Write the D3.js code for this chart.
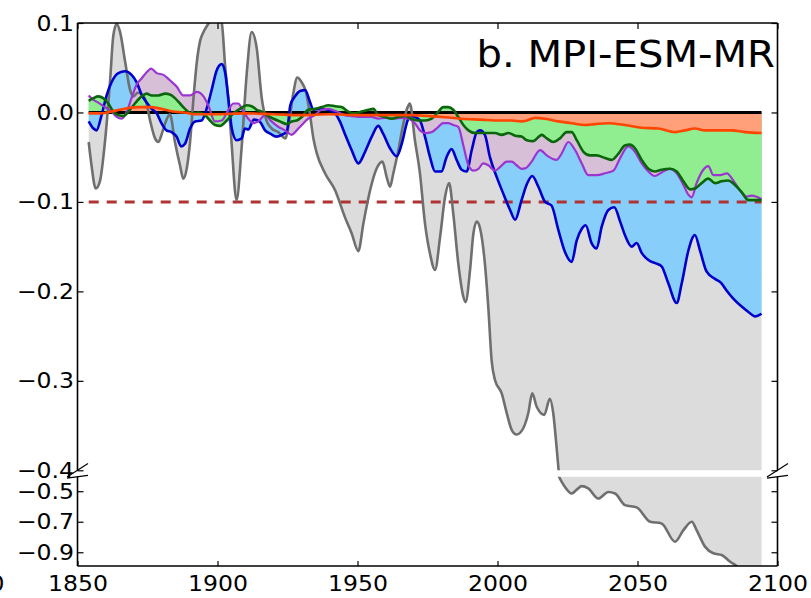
<!DOCTYPE html>
<html>
<head>
<meta charset="utf-8">
<script src="https://cdn.jsdelivr.net/npm/d3@7/dist/d3.min.js"></script>
<style>
  html, body { margin: 0; padding: 0; background: #fff; }
  svg { display: block; font-family: "DejaVu Sans", sans-serif; }
</style>
</head>
<body>
<svg id="chart" width="811" height="598"></svg>
<script>
// Anomaly series, [year, value]
const grayData = [[1854,-0.033],[1855,-0.059],[1856.5,-0.085],[1858,-0.077],[1859.8,-0.033],[1861.6,0.034],[1862.8,0.086],[1864,0.099],[1865.2,0.09],[1867,0.057],[1868.8,0.025],[1870,0.018],[1871.5,0.022],[1873,0.02],[1874.5,0.012],[1876,-0.01],[1877.7,-0.029],[1878.9,-0.033],[1880.3,-0.022],[1881.8,-0.008],[1883,-0.002],[1884.8,-0.033],[1886.6,-0.059],[1887.8,-0.074],[1889,-0.063],[1890.2,-0.033],[1891.4,0.015],[1892.6,0.056],[1893.8,0.08],[1895,0.09],[1896.5,0.098],[1898,0.104],[1900,0.104],[1901.5,0.1],[1902.7,0.053],[1904,0.01],[1905,-0.033],[1906.8,-0.098],[1908.6,-0.04],[1910.4,0.042],[1912.2,0.09],[1914,0.072],[1915.8,0.016],[1917.6,-0.01],[1919.4,-0.018],[1921.7,-0.022],[1924.3,-0.029],[1925.5,-0.012],[1927,0.02],[1928.5,0.039],[1930,0.034],[1931.5,0.024],[1933,-0.002],[1934.3,-0.03],[1935.5,-0.046],[1938.4,-0.068],[1942,-0.087],[1945.5,-0.117],[1947.9,-0.135],[1950.3,-0.155],[1952.1,-0.124],[1954.5,-0.087],[1956.8,-0.063],[1958.9,-0.055],[1960.4,-0.072],[1961.6,-0.083],[1962.8,-0.068],[1964.6,-0.042],[1966.4,-0.012],[1967.9,0.006],[1968.7,0.01],[1970.5,-0.031],[1972.3,-0.068],[1974.1,-0.124],[1975.9,-0.158],[1977.7,-0.176],[1979.5,-0.139],[1981.3,-0.094],[1982.7,-0.079],[1984.2,-0.113],[1986,-0.169],[1987.8,-0.206],[1988.6,-0.212],[1990.2,-0.176],[1991.4,-0.135],[1992.6,-0.122],[1993.8,-0.13],[1995.5,-0.169],[1996.7,-0.217],[1997.9,-0.277],[1999.1,-0.299],[2001.5,-0.314],[2003.3,-0.336],[2005.1,-0.355],[2006.8,-0.36],[2009.2,-0.353],[2011,-0.336],[2012.4,-0.314],[2014,-0.329],[2016.7,-0.338],[2018.7,-0.32],[2019.9,-0.336],[2021.1,-0.374],[2022.3,-0.417],[2024.1,-0.472],[2026.5,-0.515],[2028.3,-0.49],[2030.1,-0.467],[2032.4,-0.482],[2036,-0.548],[2039.6,-0.505],[2042,-0.515],[2045.5,-0.591],[2049.7,-0.606],[2054.5,-0.70],[2058.6,-0.711],[2063.4,-0.831],[2066.4,-0.755],[2069.4,-0.70],[2071.1,-0.755],[2074.1,-0.863],[2077.1,-0.907],[2080.1,-0.918],[2083,-0.961],[2085.4,-0.99],[2088,-1.03],[2091,-1.06],[2094.3,-1.09]];

const blueData = [[1854,-0.01],[1855.7,-0.018],[1856.8,-0.02],[1858.6,-0.003],[1860.4,0.019],[1862.2,0.034],[1864.6,0.044],[1867,0.046],[1869.3,0.042],[1871.1,0.034],[1872.9,0.02],[1874.7,0.011],[1876.5,0.004],[1878.3,-0.001],[1880,-0.012],[1881.8,-0.02],[1883.6,-0.022],[1885.4,-0.027],[1887,-0.038],[1888.4,-0.035],[1890.2,-0.018],[1892,-0.01],[1894.3,-0.009],[1896.1,0.004],[1897.9,0.025],[1899.7,0.047],[1901.5,0.054],[1902.7,0.045],[1903.9,0.015],[1905.1,-0.018],[1906.8,-0.031],[1908.6,-0.029],[1909.8,-0.018],[1911,-0.019],[1913,-0.008],[1915,-0.01],[1917,-0.02],[1919,-0.024],[1921,-0.027],[1923,-0.025],[1924.8,-0.021],[1926,0.008],[1927.7,0.018],[1929.5,0.024],[1931.3,0.025],[1933,0.012],[1934.2,0.003],[1936.6,0.004],[1939.6,0.003],[1942,-0.001],[1943.7,-0.01],[1945.5,-0.024],[1947.9,-0.042],[1950.3,-0.057],[1952.7,-0.044],[1955.1,-0.027],[1957.4,-0.015],[1959.2,-0.024],[1961.6,-0.04],[1964,-0.049],[1965.8,-0.035],[1967.6,-0.012],[1968.7,-0.003],[1970.5,-0.005],[1972.3,-0.009],[1974.1,-0.027],[1975.9,-0.05],[1977.7,-0.066],[1980,-0.066],[1981.8,-0.05],[1983.6,-0.041],[1985.4,-0.053],[1987.2,-0.064],[1989,-0.066],[1990.8,-0.042],[1992.6,-0.022],[1993.8,-0.02],[1995.5,-0.025],[1997.3,-0.05],[1999.7,-0.072],[2002.1,-0.091],[2004.5,-0.109],[2006.3,-0.12],[2008.6,-0.098],[2010.5,-0.08],[2012.4,-0.071],[2014.6,-0.083],[2017,-0.1],[2019.3,-0.104],[2021.7,-0.131],[2024.1,-0.156],[2026.5,-0.167],[2028.3,-0.143],[2030.1,-0.13],[2031.5,-0.126],[2033.6,-0.146],[2035.4,-0.152],[2037.2,-0.128],[2039.6,-0.109],[2041.7,-0.106],[2043.8,-0.122],[2045.5,-0.137],[2047.9,-0.15],[2049.7,-0.146],[2051.5,-0.157],[2053.9,-0.165],[2056.8,-0.169],[2058.6,-0.172],[2061,-0.191],[2064,-0.213],[2065.8,-0.191],[2068.2,-0.154],[2070.5,-0.137],[2072.3,-0.154],[2074.7,-0.178],[2077.7,-0.186],[2080,-0.191],[2081.8,-0.199],[2084.2,-0.208],[2087.2,-0.217],[2089.6,-0.223],[2092,-0.228],[2094.3,-0.225]];

const purpleData = [[1854,0.019],[1855.7,0.014],[1857.4,0.011],[1859.8,0.006],[1862.2,0.001],[1864,-0.005],[1865.8,-0.007],[1867.6,0.001],[1869.3,0.016],[1871.1,0.031],[1872.9,0.038],[1874.7,0.045],[1876.3,0.049],[1878.3,0.044],[1880.7,0.042],[1883,0.036],[1885.4,0.029],[1887.8,0.019],[1890.2,0.019],[1892.6,0.023],[1895,0.018],[1896.7,0.008],[1899.1,-0.01],[1901.5,-0.009],[1903.9,0.003],[1905.7,0.01],[1907.4,0.01],[1909.2,0.001],[1911,-0.007],[1912.8,-0.012],[1914.6,-0.01],[1917,-0.003],[1919.3,-0.01],[1921.7,-0.016],[1924.1,-0.02],[1926.5,-0.025],[1928.3,-0.02],[1930.1,-0.014],[1932.4,-0.007],[1934.8,-0.003],[1937.2,0.003],[1939.6,0.004],[1942.6,0.001],[1945.5,-0.003],[1948,-0.004],[1951.5,-0.005],[1955,-0.005],[1957.4,-0.007],[1960,-0.006],[1963.4,-0.007],[1966,-0.006],[1968.2,-0.007],[1970.5,-0.012],[1972.3,-0.02],[1974.1,-0.023],[1976.5,-0.022],[1978.9,-0.016],[1980.6,-0.012],[1982.4,-0.012],[1984.2,-0.014],[1986,-0.016],[1987.8,-0.037],[1989.6,-0.059],[1991.4,-0.065],[1993.2,-0.063],[1994.9,-0.057],[1996.7,-0.059],[1999.1,-0.065],[2000.9,-0.061],[2003.3,-0.055],[2005.1,-0.055],[2006.8,-0.059],[2008.6,-0.063],[2010.2,-0.062],[2012.2,-0.055],[2015.2,-0.042],[2017.6,-0.048],[2021.1,-0.053],[2022.9,-0.046],[2025.3,-0.033],[2027.7,-0.042],[2030.1,-0.057],[2032.4,-0.07],[2035.4,-0.07],[2038.4,-0.068],[2041.4,-0.065],[2043.8,-0.051],[2046.7,-0.038],[2049.1,-0.044],[2051.5,-0.057],[2053.9,-0.066],[2056.2,-0.071],[2058.6,-0.067],[2061.6,-0.063],[2064,-0.068],[2066.4,-0.081],[2068.2,-0.092],[2069.3,-0.095],[2071.1,-0.079],[2073.5,-0.064],[2075.3,-0.06],[2077.1,-0.07],[2079.5,-0.07],[2081.9,-0.068],[2084.2,-0.076],[2086.6,-0.087],[2089,-0.094],[2090.8,-0.093],[2094.3,-0.097]];

const greenData = [[1854,0.013],[1855.7,0.016],[1857.4,0.018],[1859.2,0.016],[1861,0.01],[1862.8,0.001],[1864.6,-0.003],[1866.4,-0.004],[1868.2,0.001],[1870.5,0.01],[1872.9,0.018],[1874.7,0.021],[1876.5,0.019],[1878.9,0.019],[1881.3,0.021],[1883,0.02],[1884.8,0.016],[1886.6,0.01],[1888.4,0.004],[1890.8,-0.001],[1893.2,0],[1895.5,-0.003],[1897.3,-0.009],[1899.1,-0.014],[1900.9,-0.015],[1903.3,-0.009],[1905.7,-0.001],[1908,0.004],[1910.4,0.008],[1912.2,0.007],[1914,0.003],[1915.8,0.001],[1917.6,-0.003],[1920,-0.007],[1922.3,-0.01],[1924.7,-0.013],[1926.5,-0.01],[1928.3,-0.009],[1930.1,-0.005],[1932.4,0.003],[1934.8,0.004],[1937.2,0.006],[1939.6,0.008],[1942,0.007],[1944.3,0.006],[1946.7,0.001],[1949.1,-0.001],[1951.5,0.001],[1953.9,0.003],[1955.7,0.004],[1957.4,-0.003],[1959.8,-0.005],[1962.2,-0.007],[1964.6,-0.005],[1967,-0.004],[1969.3,-0.007],[1971.7,-0.009],[1974.1,-0.009],[1976.5,-0.007],[1978.9,0.001],[1980.6,0.006],[1982.4,0.006],[1984.2,0.003],[1986,-0.005],[1987.8,-0.014],[1989.6,-0.02],[1992,-0.023],[1994.3,-0.023],[1996.7,-0.023],[1999.1,-0.023],[2001.5,-0.025],[2003.9,-0.023],[2006.3,-0.026],[2008.6,-0.027],[2010.5,-0.031],[2012.8,-0.032],[2015.8,-0.025],[2017.6,-0.029],[2019.9,-0.033],[2022.3,-0.029],[2024.7,-0.022],[2026.5,-0.022],[2028.3,-0.031],[2030.7,-0.044],[2033,-0.048],[2035.4,-0.048],[2038.4,-0.051],[2040.8,-0.053],[2043.2,-0.046],[2045.5,-0.037],[2047.3,-0.036],[2049.1,-0.04],[2051.5,-0.053],[2053.9,-0.063],[2056.2,-0.066],[2058.6,-0.064],[2061.6,-0.063],[2064,-0.066],[2066.4,-0.077],[2068.8,-0.086],[2070.5,-0.085],[2072.9,-0.079],[2075.3,-0.074],[2077.7,-0.079],[2080,-0.077],[2082.4,-0.076],[2084.8,-0.081],[2087.2,-0.089],[2089.6,-0.098],[2092,-0.098],[2094.3,-0.098]];

const orangeData = [[1854,-0.001],[1858,-0.001],[1862,0.001],[1865,0.003],[1868,0.005],[1872,0.006],[1876,0.006],[1880,0.004],[1884,0.001],[1888,0],[1892,-0.002],[1900,-0.002],[1910,-0.001],[1920,-0.002],[1930,-0.003],[1940,-0.002],[1950,-0.003],[1960,-0.003],[1970,-0.003],[1975,-0.004],[1980,-0.005],[1987,-0.007],[1994,-0.008],[2001,-0.009],[2005,-0.009],[2008.6,-0.01],[2010.5,-0.009],[2013.4,-0.006],[2017,-0.007],[2021.7,-0.01],[2026.5,-0.012],[2031.2,-0.014],[2034.8,-0.013],[2039.6,-0.012],[2045.5,-0.014],[2051.5,-0.017],[2057.4,-0.018],[2063.4,-0.022],[2067,-0.02],[2070.5,-0.018],[2074.1,-0.02],[2078.9,-0.02],[2083.6,-0.02],[2088.4,-0.022],[2094.3,-0.023]];

// Axis ticks and reference levels
const xTicks = [1850, 1900, 1950, 2000, 2050, 2100];
const yTicksTop = [0.1, 0.0, -0.1, -0.2, -0.3, -0.4];
const yTicksBottom = [-0.5, -0.7, -0.9];
const thresholdLevel = -0.1;
const title = "b. MPI-ESM-MR";

// Layers, bottom to top: each fills from zero to its curve
const series = [
  { data: grayData,   fill: "#dcdcdc", stroke: "#6f6f6f", width: 2.6 },
  { data: blueData,   fill: "#87cefa", stroke: "#0000cd", width: 2.6 },
  { data: purpleData, fill: "#d8bfd8", stroke: "#9b35cf", width: 2.2 },
  { data: greenData,  fill: "#90ee90", stroke: "#0b650b", width: 2.6 },
  { data: orangeData, fill: "#ffa07a", stroke: "#ff4500", width: 2.6 }
];

const svg = d3.select("#chart");
const SX = 1.07; // horizontal stretch applied to all text

const x = d3.scaleLinear().domain([1850, 2100]).range([77.5, 777.5]);
const yTop = d3.scaleLinear().domain([-0.4, 0.1]).range([470.3, 23]);
const yBot = d3.scaleLinear().domain([-0.99, -0.405]).range([566, 476.7]);

const xLeft = x.range()[0], xRight = x.range()[1];
const yearExtent = d3.extent(grayData, d => d[0]);

const defs = svg.append("defs");
function addClip(id, y) {
  const r = y.range();
  defs.append("clipPath").attr("id", id)
    .append("rect")
    .attr("x", xLeft).attr("y", Math.min(r[0], r[1]))
    .attr("width", xRight - xLeft).attr("height", Math.abs(r[0] - r[1]));
}
addClip("clip-top", yTop);
addClip("clip-bot", yBot);

function drawPanel(y, clipId) {
  const g = svg.append("g").attr("clip-path", `url(#${clipId})`);
  const area = d3.area().curve(d3.curveMonotoneX)
    .x(d => x(d[0])).y0(y(0)).y1(d => y(d[1]));
  const line = d3.line().curve(d3.curveMonotoneX)
    .x(d => x(d[0])).y(d => y(d[1]));
  series.forEach(s => {
    g.append("path").datum(s.data).attr("d", area).attr("fill", s.fill);
  });
  // reference levels
  g.append("line")
    .attr("x1", x(yearExtent[0])).attr("x2", x(yearExtent[1]))
    .attr("y1", y(thresholdLevel)).attr("y2", y(thresholdLevel))
    .attr("stroke", "#b03232").attr("stroke-width", 3)
    .attr("stroke-dasharray", "10,8");
  g.append("line")
    .attr("x1", x(yearExtent[0])).attr("x2", x(yearExtent[1]))
    .attr("y1", y(0)).attr("y2", y(0))
    .attr("stroke", "#000").attr("stroke-width", 3);
  series.forEach(s => {
    g.append("path").datum(s.data).attr("d", line)
      .attr("fill", "none").attr("stroke", s.stroke)
      .attr("stroke-width", s.width).attr("stroke-linejoin", "round");
  });
}
drawPanel(yTop, "clip-top");
drawPanel(yBot, "clip-bot");

// Axes (ticks point inward, labels stretched horizontally)
const fmt = d3.format(".1f");
function styleAxis(g) {
  g.select(".domain").remove();
  g.selectAll(".tick line").attr("stroke", "#000").attr("stroke-width", 1.2);
  g.selectAll(".tick text").attr("fill", "#000").style("font-size", "22px")
    .style("font-family", "'DejaVu Sans', sans-serif");
}

function leftAxis(y, ticks) {
  const g = svg.append("g").attr("transform", `translate(${xLeft},0)`)
    .call(d3.axisLeft(y).tickValues(ticks).tickSize(-6).tickFormat(fmt));
  styleAxis(g);
  g.selectAll(".tick text").attr("x", -3.5 / SX).attr("transform", `scale(${SX},1)`);
}
function rightAxis(y, ticks) {
  const g = svg.append("g").attr("transform", `translate(${xRight},0)`)
    .call(d3.axisRight(y).tickValues(ticks).tickSize(-6).tickFormat(""));
  styleAxis(g);
}
leftAxis(yTop, yTicksTop);
leftAxis(yBot, yTicksBottom);
rightAxis(yTop, yTicksTop);
rightAxis(yBot, yTicksBottom);

const yBottomEdge = yBot.range()[0], yTopEdge = yTop.range()[1];
const gx = svg.append("g").attr("transform", `translate(0,${yBottomEdge})`)
  .call(d3.axisBottom(x).tickValues(xTicks).tickSize(-5).tickPadding(9).tickFormat(d3.format("d")));
styleAxis(gx);
gx.selectAll(".tick text").attr("transform", `scale(${SX},1)`);

const gxt = svg.append("g").attr("transform", `translate(0,${yTopEdge})`)
  .call(d3.axisTop(x).tickValues(xTicks).tickSize(-6).tickFormat(""));
styleAxis(gxt);

// edge of the neighbouring panel's axis label
svg.append("text")
  .attr("transform", `translate(4.5,${yBottomEdge + 9}) scale(${SX},1)`)
  .attr("dy", "0.71em").attr("text-anchor", "end")
  .style("font-size", "22px").text(d3.format("d")(xTicks[xTicks.length - 1]));

// Spines, broken between the two panels
const spines = svg.append("g").attr("stroke", "#000").attr("fill", "none");
const yBreakTop = yTop.range()[0], yBreakBot = yBot.range()[1];
spines.append("line").attr("x1", xLeft).attr("x2", xRight).attr("y1", yTopEdge).attr("y2", yTopEdge).attr("stroke-width", 1.3);
spines.append("line").attr("x1", xLeft).attr("x2", xRight).attr("y1", yBottomEdge).attr("y2", yBottomEdge).attr("stroke-width", 1.6);
[xLeft, xRight].forEach(xx => {
  spines.append("line").attr("x1", xx).attr("x2", xx).attr("y1", yTopEdge).attr("y2", yBreakTop).attr("stroke-width", 1.6);
  spines.append("line").attr("x1", xx).attr("x2", xx).attr("y1", yBreakBot).attr("y2", yBottomEdge).attr("stroke-width", 1.6);
  // diagonal break marks
  const dx = 10.5;
  const dTop = 0.015 * (yBreakTop - yTopEdge);
  const dBot = 0.015 * (yBottomEdge - yBreakBot);
  spines.append("line").attr("x1", xx - dx).attr("y1", yBreakTop + dTop)
    .attr("x2", xx + dx).attr("y2", yBreakTop - dTop).attr("stroke-width", 1.2);
  spines.append("line").attr("x1", xx - dx).attr("y1", yBreakBot + dBot)
    .attr("x2", xx + dx).attr("y2", yBreakBot - dBot).attr("stroke-width", 1.2);
});

// Panel title
svg.append("text")
  .attr("transform", `translate(775,66.5) scale(${SX},1)`)
  .attr("text-anchor", "end")
  .style("font-size", "37.5px").attr("fill", "#000")
  .text(title);
</script>
</body>
</html>
